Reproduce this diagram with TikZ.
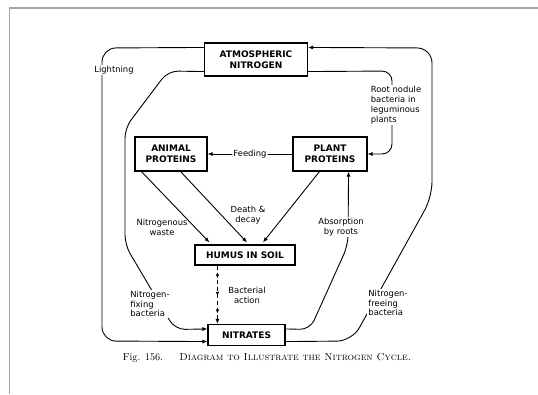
\documentclass[tikz,border=0pt]{standalone}
\usepackage{fontspec}
\newfontfamily\lblfont{DejaVu Sans}
\newfontfamily\boxfont{DejaVu Sans}
\usetikzlibrary{arrows.meta,calc,decorations.markings}
\begin{document}
\begin{tikzpicture}[x=1pt,y=-1pt,
  box/.style={draw, line width=1.1pt, inner sep=0pt, align=center,
    font=\boxfont\bfseries\fontsize{9}{11.5}\selectfont},
  lbl/.style={fill=white, inner sep=1pt, font=\lblfont\fontsize{8.4}{9.8}\selectfont},
  conn/.style={line width=0.9pt, rounded corners=12pt},
  tip/.style={-{Latex[length=5pt,width=4pt]}},
]
\fill[white] (0,0) rectangle (538,394);
\useasboundingbox (0,0) rectangle (538,394);
\draw[black!35, line width=1.2pt] (9.5,394) -- (9.5,8) -- (538,8);

% boxes
\node[box, minimum width=103pt, minimum height=33pt] (atm) at (256,59.5) {ATMOSPHERIC\\NITROGEN};
\node[box, minimum width=72pt, minimum height=34pt] (ani) at (171,154) {ANIMAL\\PROTEINS};
\node[box, minimum width=74pt, minimum height=34pt] (pla) at (330,154) {PLANT\\PROTEINS};
\node[box, minimum width=100pt, minimum height=20pt] (hum) at (245,255) {HUMUS IN SOIL};
\node[box, minimum width=77pt, minimum height=21pt] (nit) at (246.5,335) {NITRATES};

% lightning (outer left)
\draw[conn,rounded corners=14pt,tip] ($(atm.north west)+(0,5)$) -- (102,48) -- (102,341) -- ($(nit.south west)+(0,-4.5)$);
% nitrogen-fixing bacteria (inner left)
\draw[conn,rounded corners=10pt,tip] ($(atm.south west)+(0,-5)$) -- (168,71) -- (125,128) -- (125,245) -- (175,329.5) -- ($(nit.north west)+(0,5)$);
% root nodule bacteria
\draw[conn,rounded corners=10pt,tip] ($(atm.south east)+(0,-5)$) -- (392,71) -- (392,154) -- (pla.east);
% nitrogen-freeing bacteria (outer right)
\draw[conn,rounded corners=15pt,tip] ($(nit.south east)+(0,-4.5)$) -- (352,341) -- (432,197) -- (432,48) -- ($(atm.north east)+(0,5)$);
% absorption by roots
\draw[conn,rounded corners=10pt,tip] ($(nit.north east)+(0,5)$) -- (310,329.5) -- (348,245) -- ($(pla.south east)+(-19,0)$);
% feeding
\draw[conn,tip] (pla.west) -- node[lbl]{Feeding} (ani.east);
% to humus
\draw[conn,tip] ($(ani.south west)+(7,0)$) -- ($(hum.north west)+(15,-2)$);
\draw[conn,tip] ($(ani.south east)+(-27,0)$) -- ($(hum.north)+(2,-2)$);
\draw[conn,tip] ($(pla.south west)+(27,0)$) -- ($(hum.north)+(18,-2)$);
% bacterial action
\draw[conn,dash pattern=on 4pt off 3pt,tip,
  decoration={markings,
    mark=at position 0.22 with {\arrow{Latex[length=4pt,width=3.5pt]}},
    mark=at position 0.52 with {\arrow{Latex[length=4pt,width=3.5pt]}},
    mark=at position 0.82 with {\arrow{Latex[length=4pt,width=3.5pt]}}},
  postaction={decorate}]
  ($(hum.south west)+(23,0)$) -- ($(nit.north west)+(10,0)$);

% labels
\node[lbl, align=center] (lt) at (114,70) {Lightning};
\node[lbl, align=left] (rn) at (396,105) {Root nodule\\bacteria in\\leguminous\\plants};
\node[lbl, align=left] (nf) at (150,304) {Nitrogen-\\fixing\\bacteria};
\node[lbl, align=left] (nfr) at (388,303) {Nitrogen-\\freeing\\bacteria};
\node[lbl, align=center] (ab) at (341,227) {Absorption\\by roots};
\node[lbl, fill=none, align=center] (nw) at (162,227) {Nitrogenous\\waste};
\node[lbl, fill=none, align=center] (dd) at (248,215) {Death \&\\decay};
\node[lbl, fill=none, align=center] (ba) at (247,295) {Bacterial\\action};

% caption
\node[font=\fontsize{10.2}{12}\selectfont] (cap) at (267,358)
  {Fig. 156.\hspace{1.6em}\textsc{Diagram to Illustrate the Nitrogen Cycle.}};
\end{tikzpicture}
\end{document}
